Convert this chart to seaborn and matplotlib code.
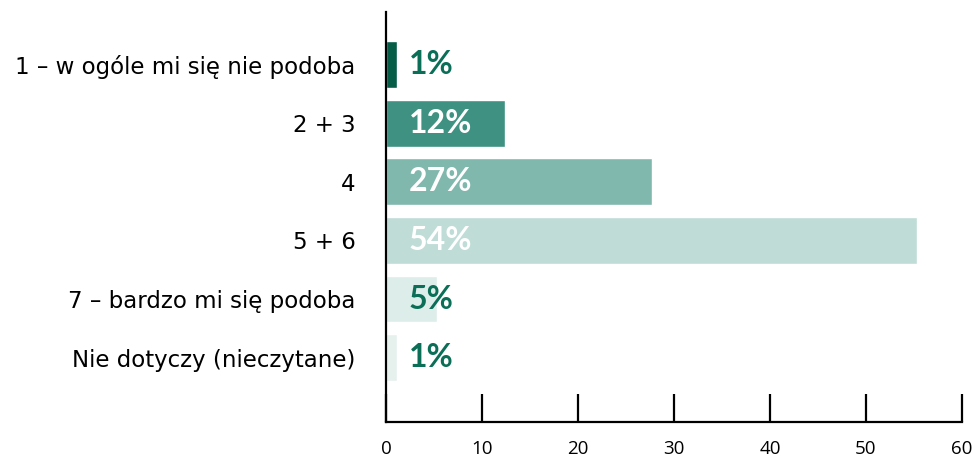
import matplotlib
matplotlib.use("Agg")
import matplotlib.pyplot as plt
import seaborn as sns
import pandas as pd

categories = [
    "1 – w ogóle mi się nie podoba",
    "2 + 3",
    "4",
    "5 + 6",
    "7 – bardzo mi się podoba",
    "Nie dotyczy (nieczytane)",
]
values = [1.1, 12.4, 27.7, 55.3, 5.3, 1.1]
pct_labels = ["1%", "12%", "27%", "54%", "5%", "1%"]
bar_colors = ["#055c47", "#3f9181", "#80b8ad", "#bfdcd6", "#ddedea", "#e6f1ee"]
label_colors = ["#0b6e57", "white", "white", "white", "#0b6e57", "#0b6e57"]

sns.set_style("white")
plt.rcParams["font.family"] = ["DejaVu Sans"]

df = pd.DataFrame({"cat": categories, "val": values})

fig = plt.figure(figsize=(9.76, 4.59), dpi=100)
ax = fig.add_axes([386 / 976, 1 - 422 / 459, (962 - 386) / 976, (422 - 12) / 459])

sns.barplot(data=df, x="val", y="cat", hue="cat", palette=bar_colors,
            legend=False, width=0.8, saturation=1, ax=ax)

for i, (lab, col) in enumerate(zip(pct_labels, label_colors)):
    ax.text(2.4, i, lab, color=col, fontsize=23, fontweight="bold",
            family="Lato", va="center", ha="left")

ax.set_xlim(0, 60)
ax.set_ylim(5 + 1.1, -0.9)
ax.set_xticks(range(0, 61, 10))
ax.set_xlabel("")
ax.set_ylabel("")

for s in ["top", "right"]:
    ax.spines[s].set_visible(False)
for s in ["left", "bottom"]:
    ax.spines[s].set_color("black")
    ax.spines[s].set_linewidth(1.6)

ax.tick_params(axis="x", bottom=True, direction="in", length=20, width=1.6,
               color="black", pad=13, labelsize=13.5, labelcolor="black")
ax.tick_params(axis="y", left=False, length=0, pad=22, labelsize=16.5,
               labelcolor="black")
for t in ax.get_xticklabels():
    t.set_family("Open Sans")

fig.savefig("out.png", dpi=100)
